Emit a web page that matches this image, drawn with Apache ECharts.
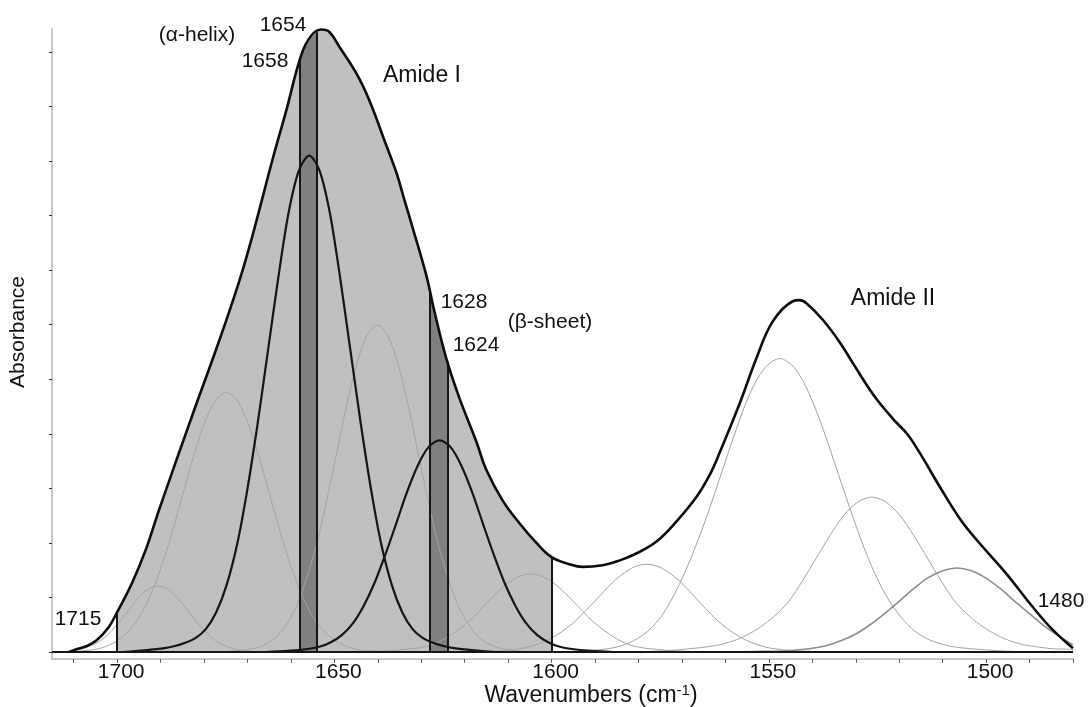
<!DOCTYPE html>
<html>
<head>
<meta charset="utf-8">
<title>Amide I / Amide II band fitting</title>
<script src="https://cdn.jsdelivr.net/npm/echarts@6/dist/echarts.min.js"></script>
<style>
  html, body { margin: 0; padding: 0; background: #fff; }
  #chart { width: 1089px; height: 707px; }
</style>
</head>
<body>
<div id="chart"></div>
<script>
// axis ticks, wavenumber axis runs from high (left) to low (right)
const xTicks = [1710, 1700, 1690, 1680, 1670, 1660, 1650, 1640, 1630, 1620, 1610, 1600,
                1590, 1580, 1570, 1560, 1550, 1540, 1530, 1520, 1510, 1500, 1490, 1480];
const xLabels = [1700, 1650, 1600, 1550, 1500];
const yTicks = [0, 0.1, 0.2, 0.3, 0.4, 0.5, 0.6, 0.7, 0.8, 0.9, 1.0, 1.1];

// measured spectrum, [wavenumber, absorbance]
const envelope = [
  [1711.0, 0], [1709.4, 0.005], [1707.0, 0.011], [1704.8, 0.021], [1702.0, 0.045],
  [1700.0, 0.073], [1696.5, 0.128], [1693.3, 0.190], [1690.3, 0.262], [1682.7, 0.434],
  [1676.5, 0.571], [1671.9, 0.680], [1668.9, 0.762], [1664.3, 0.901], [1661.1, 0.992],
  [1657.6, 1.095], [1655.3, 1.130], [1653.0, 1.141], [1651.2, 1.137], [1648.9, 1.110],
  [1644.9, 1.060], [1641.9, 1.010], [1638.5, 0.938], [1635.7, 0.878], [1633.9, 0.829],
  [1632.0, 0.778], [1628.8, 0.689], [1627.0, 0.625], [1624.2, 0.537], [1621.2, 0.465],
  [1617.3, 0.385], [1615.1, 0.335], [1611.3, 0.278], [1607.4, 0.236], [1603.5, 0.200],
  [1600.0, 0.174], [1595.9, 0.161], [1592.9, 0.156], [1588.3, 0.159], [1584.3, 0.168],
  [1580.4, 0.181], [1575.8, 0.203], [1571.2, 0.240], [1566.6, 0.285], [1563.6, 0.325],
  [1561.3, 0.366], [1556.7, 0.456], [1552.8, 0.540], [1549.1, 0.606], [1544.5, 0.643],
  [1542.9, 0.645], [1541.3, 0.639], [1537.6, 0.609], [1533.7, 0.568], [1530.7, 0.530],
  [1526.0, 0.472], [1521.4, 0.427], [1518.2, 0.400], [1515.2, 0.364], [1510.6, 0.302],
  [1506.0, 0.244], [1501.9, 0.203], [1495.6, 0.146], [1489.2, 0.082], [1484.6, 0.040],
  [1480.0, 0.007]
];

// fitted component bands, [wavenumber, absorbance]
const helix1656 = [
  [1698.6, 0], [1693.8, 0.003], [1689.1, 0.007], [1686.7, 0.011], [1684.3, 0.017],
  [1681.9, 0.026], [1679.6, 0.042], [1677.2, 0.073], [1674.8, 0.123], [1672.4, 0.197],
  [1670.1, 0.295], [1667.7, 0.417], [1665.3, 0.552], [1662.9, 0.687], [1660.6, 0.803],
  [1658.2, 0.882], [1655.8, 0.910], [1653.4, 0.882], [1651.0, 0.803], [1648.7, 0.687],
  [1646.3, 0.552], [1643.9, 0.417], [1641.5, 0.295], [1639.2, 0.197], [1636.8, 0.123],
  [1634.4, 0.073], [1632.0, 0.042], [1629.7, 0.026], [1627.3, 0.017], [1624.9, 0.011],
  [1622.5, 0.007], [1617.8, 0.003], [1613.0, 0]
];
const sheet1625 = [
  [1665.8, 0], [1660.8, 0.002], [1655.8, 0.006], [1653.3, 0.010], [1650.8, 0.018],
  [1648.3, 0.031], [1645.8, 0.052], [1643.3, 0.084], [1640.8, 0.126], [1638.3, 0.178],
  [1635.8, 0.235], [1633.3, 0.293], [1630.8, 0.342], [1628.3, 0.376], [1625.8, 0.388],
  [1623.3, 0.376], [1620.8, 0.342], [1618.3, 0.293], [1615.8, 0.235], [1613.3, 0.178],
  [1610.8, 0.126], [1608.3, 0.084], [1605.8, 0.052], [1603.3, 0.031], [1600.8, 0.018],
  [1598.3, 0.010], [1595.8, 0.006], [1590.8, 0.002], [1585.8, 0]
];
const band1690 = [
  [1715.0, 0], [1711.9, 0.001], [1710.1, 0.003], [1708.4, 0.005], [1706.6, 0.010],
  [1704.8, 0.016], [1703.0, 0.026], [1701.3, 0.039], [1699.5, 0.055], [1697.7, 0.073],
  [1695.9, 0.091], [1694.2, 0.107], [1692.4, 0.117], [1690.6, 0.121], [1688.8, 0.117],
  [1687.0, 0.107], [1685.3, 0.091], [1683.5, 0.073], [1681.7, 0.055], [1679.9, 0.039],
  [1678.2, 0.026], [1676.4, 0.016], [1674.6, 0.010], [1672.9, 0.005], [1671.1, 0.003],
  [1669.3, 0.001], [1665.7, 0]
];
const band1675 = [
  [1710.9, 0], [1704.9, 0.005], [1702.4, 0.011], [1699.9, 0.021], [1697.4, 0.038],
  [1694.9, 0.064], [1692.4, 0.103], [1689.9, 0.155], [1687.4, 0.218], [1684.9, 0.289],
  [1682.4, 0.359], [1679.9, 0.420], [1677.4, 0.461], [1674.9, 0.476], [1672.4, 0.461],
  [1669.9, 0.420], [1667.4, 0.359], [1664.9, 0.289], [1662.4, 0.218], [1659.9, 0.155],
  [1657.4, 0.103], [1654.9, 0.064], [1652.4, 0.038], [1649.9, 0.021], [1647.4, 0.011],
  [1644.9, 0.005], [1639.9, 0.001], [1634.9, 0]
];
const band1640 = [
  [1677.7, 0], [1673.0, 0.002], [1668.3, 0.007], [1666.0, 0.014], [1663.6, 0.026],
  [1661.3, 0.048], [1658.9, 0.081], [1656.6, 0.130], [1654.2, 0.194], [1651.9, 0.274],
  [1649.5, 0.363], [1647.2, 0.452], [1644.8, 0.529], [1642.5, 0.581], [1640.1, 0.599],
  [1637.8, 0.581], [1635.4, 0.529], [1633.0, 0.452], [1630.7, 0.363], [1628.3, 0.274],
  [1626.0, 0.194], [1623.6, 0.130], [1621.3, 0.081], [1618.9, 0.048], [1616.6, 0.026],
  [1614.2, 0.014], [1611.9, 0.007], [1607.2, 0.002], [1602.5, 0]
];
const band1605 = [
  [1646.8, 0], [1641.6, 0.001], [1636.3, 0.003], [1633.7, 0.005], [1631.1, 0.007],
  [1628.4, 0.011], [1625.8, 0.019], [1623.2, 0.031], [1620.6, 0.046], [1617.9, 0.065],
  [1615.3, 0.087], [1612.7, 0.108], [1610.1, 0.126], [1607.4, 0.139], [1604.8, 0.143],
  [1602.2, 0.139], [1599.5, 0.126], [1596.9, 0.108], [1594.3, 0.087], [1591.7, 0.065],
  [1589.0, 0.046], [1586.4, 0.031], [1583.8, 0.019], [1581.2, 0.011], [1578.5, 0.007],
  [1575.9, 0.005], [1573.3, 0.003], [1568.0, 0.001], [1562.8, 0]
];
const band1578 = [
  [1623.7, 0], [1618.0, 0.001], [1612.3, 0.002], [1609.5, 0.004], [1606.6, 0.007],
  [1603.8, 0.013], [1600.9, 0.022], [1598.1, 0.035], [1595.2, 0.052], [1592.4, 0.074],
  [1589.5, 0.098], [1586.7, 0.122], [1583.8, 0.142], [1581.0, 0.156], [1578.1, 0.161],
  [1575.3, 0.156], [1572.4, 0.142], [1569.5, 0.122], [1566.7, 0.098], [1563.9, 0.074],
  [1561.0, 0.052], [1558.1, 0.035], [1555.3, 0.022], [1552.5, 0.013], [1549.6, 0.007],
  [1546.8, 0.004], [1543.9, 0.002], [1538.2, 0.001], [1532.5, 0]
];
const band1547 = [
  [1601.5, 0], [1594.8, 0.001], [1588.0, 0.005], [1584.6, 0.010], [1581.3, 0.020],
  [1577.9, 0.038], [1574.5, 0.068], [1571.1, 0.116], [1567.8, 0.175], [1564.4, 0.246],
  [1561.0, 0.326], [1557.6, 0.406], [1554.3, 0.475], [1550.9, 0.521], [1547.5, 0.538],
  [1544.1, 0.521], [1540.8, 0.475], [1537.4, 0.406], [1534.0, 0.326], [1530.6, 0.246],
  [1527.3, 0.175], [1523.9, 0.116], [1520.5, 0.073], [1517.1, 0.043], [1513.8, 0.025],
  [1510.4, 0.015], [1507.0, 0.009], [1500.3, 0.004], [1493.5, 0.001], [1486.8, 0]
];
const band1526 = [
  [1584.0, 0], [1577.5, 0.001], [1571.1, 0.004], [1564.7, 0.009], [1561.5, 0.013],
  [1558.3, 0.020], [1555.1, 0.031], [1551.9, 0.046], [1548.7, 0.066], [1545.5, 0.092],
  [1542.3, 0.130], [1539.1, 0.172], [1535.9, 0.214], [1532.7, 0.251], [1529.5, 0.275],
  [1526.3, 0.284], [1523.1, 0.275], [1519.9, 0.251], [1516.7, 0.214], [1513.5, 0.172],
  [1510.3, 0.130], [1507.1, 0.092], [1503.9, 0.066], [1500.7, 0.046], [1497.5, 0.031],
  [1494.3, 0.020], [1491.1, 0.013], [1487.9, 0.009], [1484.7, 0.006], [1480.0, 0.005]
];
const band1507 = [
  [1559.9, 0], [1553.3, 0.001], [1546.6, 0.002], [1543.3, 0.004], [1540.0, 0.007],
  [1536.6, 0.012], [1533.3, 0.021], [1530.0, 0.033], [1526.7, 0.050], [1523.3, 0.071],
  [1520.0, 0.093], [1516.7, 0.116], [1513.4, 0.136], [1510.0, 0.149], [1506.7, 0.154],
  [1503.4, 0.149], [1500.1, 0.136], [1496.7, 0.116], [1493.4, 0.093], [1490.1, 0.071],
  [1486.8, 0.049], [1483.4, 0.030], [1480.0, 0.013]
];

// marked regions: top of spectrum at the region edges
const helixBand = [[1658, 1.085], [1656, 1.118], [1654, 1.136]];
const sheetBand = [[1628, 0.660], [1626, 0.593], [1624, 0.532]];
const edgeTops = [[1700, 0.073], [1658, 1.085], [1654, 1.136], [1628, 0.660], [1624, 0.532], [1600, 0.174]];

const FONT = '"Liberation Sans", Arial, Helvetica, sans-serif';
const SMOOTH_SPECTRUM = 0.4;
const SMOOTH_BAND = 0.3;

const chart = echarts.init(document.getElementById('chart'));

const amideIFill = envelope.filter(p => p[0] <= 1700 && p[0] >= 1600);

const thinBand = (name, data, color, width) => ({
  name, type: 'line', data, smooth: SMOOTH_BAND, symbol: 'none', silent: true, z: 4,
  lineStyle: { color: color || '#a4a4a4', width: width || 1 }
});
const boldBand = (name, data) => ({
  name, type: 'line', data, smooth: SMOOTH_BAND, symbol: 'none', silent: true, z: 6,
  lineStyle: { color: '#151515', width: 2.2 }
});
const filled = (name, data, color, z) => ({
  name, type: 'line', data, smooth: SMOOTH_SPECTRUM, symbol: 'none', silent: true, z,
  lineStyle: { width: 0, opacity: 0 },
  areaStyle: { color, opacity: 1 }
});

const text = (t, x, y, size, extra) => Object.assign({
  type: 'text', x, y, silent: true,
  style: { text: t, fill: '#111', fontSize: size || 21, fontFamily: FONT, align: 'center', verticalAlign: 'middle' }
}, extra || {});

const option = {
  animation: false,
  backgroundColor: '#fff',
  grid: { left: 52, right: 16, top: 29, bottom: 48, outerBoundsMode: 'none' },
  xAxis: {
    type: 'value',
    min: 1480,
    max: 1715,
    inverse: true,
    axisLine: { onZero: false, lineStyle: { color: '#c8c8c8', width: 2 } },
    axisTick: { customValues: xTicks, length: 4, lineStyle: { color: '#666', width: 1 } },
    axisLabel: {
      customValues: xLabels, fontSize: 21, color: '#111', fontFamily: FONT, margin: 3,
      padding: [0, 0, 0, 8],
      formatter: v => String(v)
    },
    splitLine: { show: false }
  },
  yAxis: {
    type: 'value',
    min: -0.0128,
    max: 1.142,
    axisLine: { show: true, onZero: false, lineStyle: { color: '#c8c8c8', width: 2 } },
    axisTick: { show: true, customValues: yTicks, length: 3, lineStyle: { color: '#333', width: 1 } },
    axisLabel: { show: false },
    splitLine: { show: false }
  },
  series: [
    filled('Amide I area', amideIFill, '#c0c0c0', 1),
    filled('α-helix region', helixBand, '#808080', 2),
    filled('β-sheet region', sheetBand, '#808080', 2),
    thinBand('1690', band1690),
    thinBand('1675', band1675),
    thinBand('1640', band1640),
    thinBand('1605', band1605),
    thinBand('1578', band1578),
    thinBand('1547', band1547),
    thinBand('1526', band1526),
    thinBand('1507', band1507, '#8e8e8e', 1.6),
    boldBand('α-helix', helix1656),
    boldBand('β-sheet', sheet1625),
    {
      name: 'spectrum', type: 'line', data: envelope, smooth: SMOOTH_SPECTRUM, symbol: 'none', silent: true, z: 8,
      lineStyle: { color: '#0d0d0d', width: 2.6 }
    },
    {
      name: 'baseline', type: 'line', data: [[1715, 0], [1480, 0]], symbol: 'none', silent: true, z: 7,
      lineStyle: { color: '#151515', width: 2 },
      markLine: {
        silent: true, symbol: 'none', animation: false,
        label: { show: false },
        lineStyle: { color: '#151515', width: 2, type: 'solid' },
        data: edgeTops.map(([x, top]) => [{ coord: [x, 0] }, { coord: [x, top] }])
      }
    }
  ],
  graphic: [
    text('Absorbance', 18.5, 332, 21, { rotation: Math.PI / 2 }),
    {
      type: 'text', x: 591, y: 696, silent: true,
      style: {
        text: '{a|Wavenumbers (cm}{s|-1}{a|)}',
        align: 'center', verticalAlign: 'middle',
        rich: {
          a: { fontSize: 23, fontFamily: FONT, fill: '#111', lineHeight: 26 },
          s: { fontSize: 15, fontFamily: FONT, fill: '#111', lineHeight: 26, verticalAlign: 'top' }
        }
      }
    },
    text('1715', 78, 619),
    text('(α-helix)', 197, 35),
    text('1654', 283, 25),
    text('1658', 265, 61),
    text('Amide I', 422, 76, 23),
    text('1628', 464, 302),
    text('(β-sheet)', 550, 322),
    text('1624', 476, 345),
    text('Amide II', 893, 299, 23),
    text('1480', 1061, 601)
  ]
};

chart.setOption(option);
</script>
</body>
</html>
